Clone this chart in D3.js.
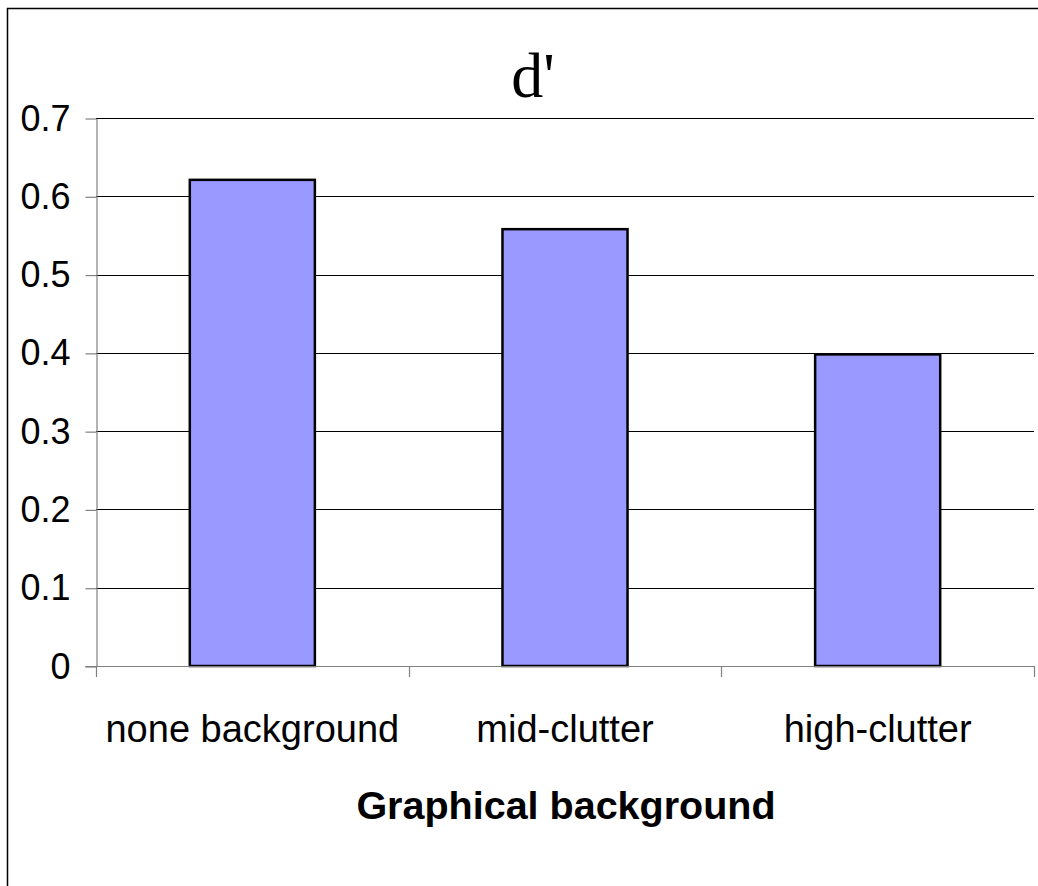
<!DOCTYPE html>
<html>
<head>
<meta charset="utf-8">
<script src="https://cdn.jsdelivr.net/npm/d3@7"></script>
<style>
  body { margin: 0; background: #fff; }
  svg { display: block; }
</style>
</head>
<body>
<svg></svg>
<script>
var width  = 1038;
var height = 886;

// data
var categories = ['none background', 'mid-clutter', 'high-clutter'];
var values     = [0.621, 0.558, 0.398];
var yTicks     = [0, 0.1, 0.2, 0.3, 0.4, 0.5, 0.6, 0.7];

var svg = d3.select('svg')
    .attr('width', width)
    .attr('height', height);

var xScale = d3.scaleBand()
    .domain(categories)
    .range([96, 1034]);

var yScale = d3.scaleLinear()
    .domain([0, 0.7])
    .range([666, 118]);

// outer chart border (runs off the right and bottom edges)
svg.append('rect')
    .attr('x', 7.5)
    .attr('y', 8.5)
    .attr('width', 1100)
    .attr('height', 1000)
    .attr('fill', 'none')
    .attr('stroke', '#000')
    .attr('stroke-width', 1.5);

// gridlines
svg.append('g')
    .selectAll('line')
    .data(yTicks.filter(d => d > 0))
    .enter()
    .append('line')
        .attr('x1', 96)
        .attr('x2', 1034)
        .attr('y1', d => Math.round(yScale(d)) + 0.5)
        .attr('y2', d => Math.round(yScale(d)) + 0.5)
        .attr('stroke', '#000')
        .attr('stroke-width', 1);

// y axis
var yAxis = d3.axisLeft(yScale)
    .tickValues(yTicks)
    .tickFormat(d => d === 0 ? '0' : d3.format('.1f')(d))
    .tickSize(11)
    .tickSizeOuter(0)
    .tickPadding(15);

var gy = svg.append('g')
    .attr('transform', 'translate(96.5, 0.5)')
    .call(yAxis);
gy.select('.domain').attr('stroke', '#808080').attr('stroke-width', 1.2);
gy.selectAll('.tick line').attr('stroke', '#808080').attr('stroke-width', 1.2);
gy.selectAll('.tick text')
    .attr('font-family', 'Liberation Sans, Arial, sans-serif')
    .attr('font-size', 36)
    .attr('fill', '#000');

// bars
svg.append('g')
    .selectAll('rect')
    .data(values)
    .enter()
    .append('rect')
        .attr('x', (d, i) => xScale(categories[i]) + xScale.bandwidth() * 0.3)
        .attr('width', xScale.bandwidth() * 0.4)
        .attr('y', d => yScale(d))
        .attr('height', d => yScale(0) - yScale(d))
        .attr('fill', '#9999FF')
        .attr('stroke', '#000')
        .attr('stroke-width', 2.5);

// x axis line and category ticks
svg.append('line')
    .attr('x1', 85)
    .attr('x2', 1034)
    .attr('y1', yScale(0) + 0.5)
    .attr('y2', yScale(0) + 0.5)
    .attr('stroke', '#808080')
    .attr('stroke-width', 1.2);

svg.append('g')
    .selectAll('line')
    .data(categories.concat(['end']))
    .enter()
    .append('line')
        .attr('x1', (d, i) => Math.round(96 + i * xScale.step()) + 0.5)
        .attr('x2', (d, i) => Math.round(96 + i * xScale.step()) + 0.5)
        .attr('y1', yScale(0))
        .attr('y2', yScale(0) + 11)
        .attr('stroke', '#808080')
        .attr('stroke-width', 1.2);

svg.append('g')
    .selectAll('text')
    .data(categories)
    .enter()
    .append('text')
        .attr('x', d => xScale(d) + xScale.bandwidth() / 2)
        .attr('y', 742)
        .attr('text-anchor', 'middle')
        .attr('font-family', 'Liberation Sans, Arial, sans-serif')
        .attr('font-size', 38)
        .text(d => d);

// axis title
svg.append('text')
    .attr('x', 566)
    .attr('y', 819)
    .attr('text-anchor', 'middle')
    .attr('font-family', 'Liberation Sans, Arial, sans-serif')
    .attr('font-weight', 'bold')
    .attr('font-size', 39.5)
    .text('Graphical background');

// chart title
svg.append('text')
    .attr('x', 533)
    .attr('y', 97)
    .attr('text-anchor', 'middle')
    .attr('font-family', 'Liberation Serif, Times New Roman, serif')
    .attr('font-size', 64)
    .text("d'");
</script>
</body>
</html>
